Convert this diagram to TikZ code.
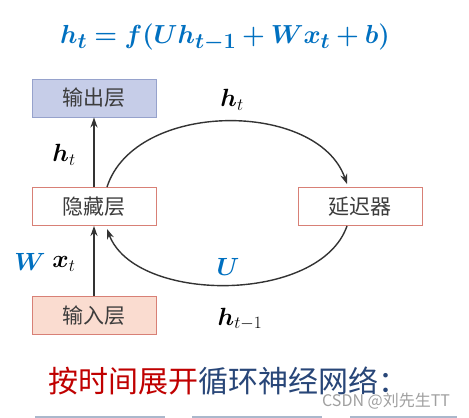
\documentclass[tikz,border=0pt]{standalone}
\usepackage{amsmath,bm}
\usepackage{fontspec}
\newfontfamily\cjk{Noto Sans CJK SC}
\usetikzlibrary{arrows.meta}
\begin{document}
\begin{tikzpicture}[x=1pt,y=1pt,
  layerbox/.style={draw=borderColor,line width=0.9pt,minimum width=124pt,minimum height=38pt,inner sep=0pt,
    font=\cjk\fontsize{21}{24}\selectfont,text=textColor},
  flowline/.style={draw=black!80,line width=1.4pt,-{Stealth[length=10pt,width=7pt]}},
  mathlabel/.style={inner sep=0pt,font=\fontsize{24}{28}\selectfont}]
\definecolor{fillColor}{RGB}{255,255,255}
\path[use as bounding box,fill=fillColor] (0,0) rectangle (469,418);
\definecolor{mathBlue}{RGB}{0,112,192}
\definecolor{borderColor}{RGB}{216,128,118}
\definecolor{textColor}{RGB}{60,60,60}
\definecolor{outFill}{RGB}{198,205,232}
\definecolor{outBorder}{RGB}{150,162,204}
\definecolor{inFill}{RGB}{250,220,208}
\definecolor{titleRed}{RGB}{192,0,0}
\definecolor{titleBlue}{RGB}{40,70,120}
\definecolor{markGray}{RGB}{160,160,160}
\definecolor{edgeGray}{RGB}{170,184,204}

% formula
\node[text=mathBlue,inner sep=0pt,scale=1.05,font=\fontsize{32}{36}\selectfont] (formula) at (225,380)
  {$\bm{h_t = f(Uh_{t-1} + Wx_t + b)}$};

% layers
\node[layerbox,fill=outFill,draw=outBorder] (output) at (94,320) {输出层};
\node[layerbox,fill=white] (hidden) at (94,211.5) {隐藏层};
\node[layerbox,fill=inFill] (input) at (94,102.5) {输入层};
\node[layerbox,fill=white] (delay) at (360,211.5) {延迟器};

% connectors
\draw[flowline] (input.north) -- (hidden.south);
\draw[flowline] (hidden.north) -- (output.south);
\draw[flowline] ([xshift=13pt]hidden.north) .. controls (135,318) and (318,318) .. ([xshift=-13pt,yshift=3pt]delay.north);
\draw[flowline] ([xshift=-13pt]delay.south) .. controls (320,114) and (135,114) .. ([xshift=13pt,yshift=-3pt]hidden.south);

% labels
\node[mathlabel] (hout) at (64,263) {$\bm{h}_t$};
\node[mathlabel] (xin) at (64,154) {$\bm{x}_t$};
\node[mathlabel,text=mathBlue] (wlab) at (30,156) {$\bm{W}$};
\node[mathlabel] (hnext) at (232,318) {$\bm{h}_t$};
\node[mathlabel,text=mathBlue] (ulab) at (228,151) {$\bm{U}$};
\node[mathlabel] (hprev) at (240,99) {$\bm{h}_{t-1}$};

% caption
\node[anchor=west,inner sep=0pt,font=\cjk\fontsize{30}{34}\selectfont] (caption) at (48,37)
  {\textcolor{titleRed}{按时间展开}\textcolor{titleBlue}{循环神经网络：}};
\node[anchor=west,inner sep=0pt,text=markGray,font=\cjk\fontsize{16}{18}\selectfont] (mark) at (322,17) {CSDN @刘先生TT};

% cut-off boxes at the lower edge
\draw[edgeGray,line width=1.5pt] (35,1) -- (165,1) (192,1) -- (322,1) (350,1) -- (457,1);
\end{tikzpicture}
\end{document}
